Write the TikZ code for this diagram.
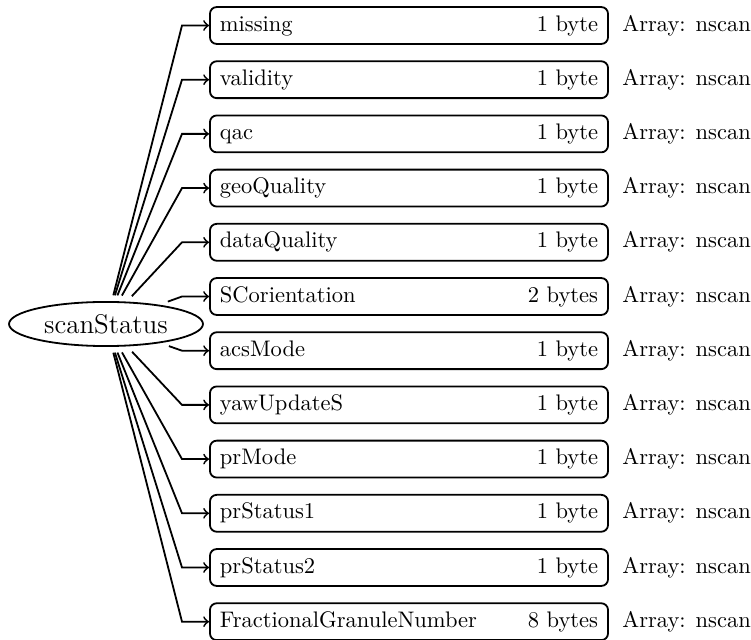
\documentclass[tikz,border=0pt]{standalone}
\usetikzlibrary{shapes.geometric}
\begin{document}
\begin{tikzpicture}[x=0.4444pt,y=-0.4444pt,
  field/.style={draw, thick, rounded corners=3pt, minimum width=176.9pt, minimum height=16.4pt,
    text width=168pt, inner xsep=4.45pt, inner ysep=0pt, text height=6.9pt, text depth=1.9pt, align=left},
  conn/.style={thick,->},
  arr/.style={anchor=base west, inner sep=0pt},
  root/.style={draw, thick, ellipse, minimum width=86.2pt, minimum height=19.6pt, inner sep=0pt,
    outer xsep=0.5pt, outer ysep=3pt, font=\large}]
\useasboundingbox (0,0) rectangle (751,640);
\node[root] (ss) at (106,324) {scanStatus};
\foreach \n/\s [count=\i] in {missing/1 byte,validity/1 byte,qac/1 byte,geoQuality/1 byte,dataQuality/1 byte,SCorientation/2 bytes,acsMode/1 byte,yawUpdateS/1 byte,prMode/1 byte,prStatus1/1 byte,prStatus2/1 byte,FractionalGranuleNumber/8 bytes} {
  \pgfmathsetmacro\yy{25.5+54.2*(\i-1)}
  \node[field] (b\i) at (409,\yy) {\n\hfill\s};
  \coordinate (c\i) at (182,\yy);
  \node[arr] (a\i) at ([xshift=5.8pt]b\i.base east) {Array: nscan};
  \draw[conn] (ss) -- (c\i) -- (b\i.west);
}
\end{tikzpicture}
\end{document}
